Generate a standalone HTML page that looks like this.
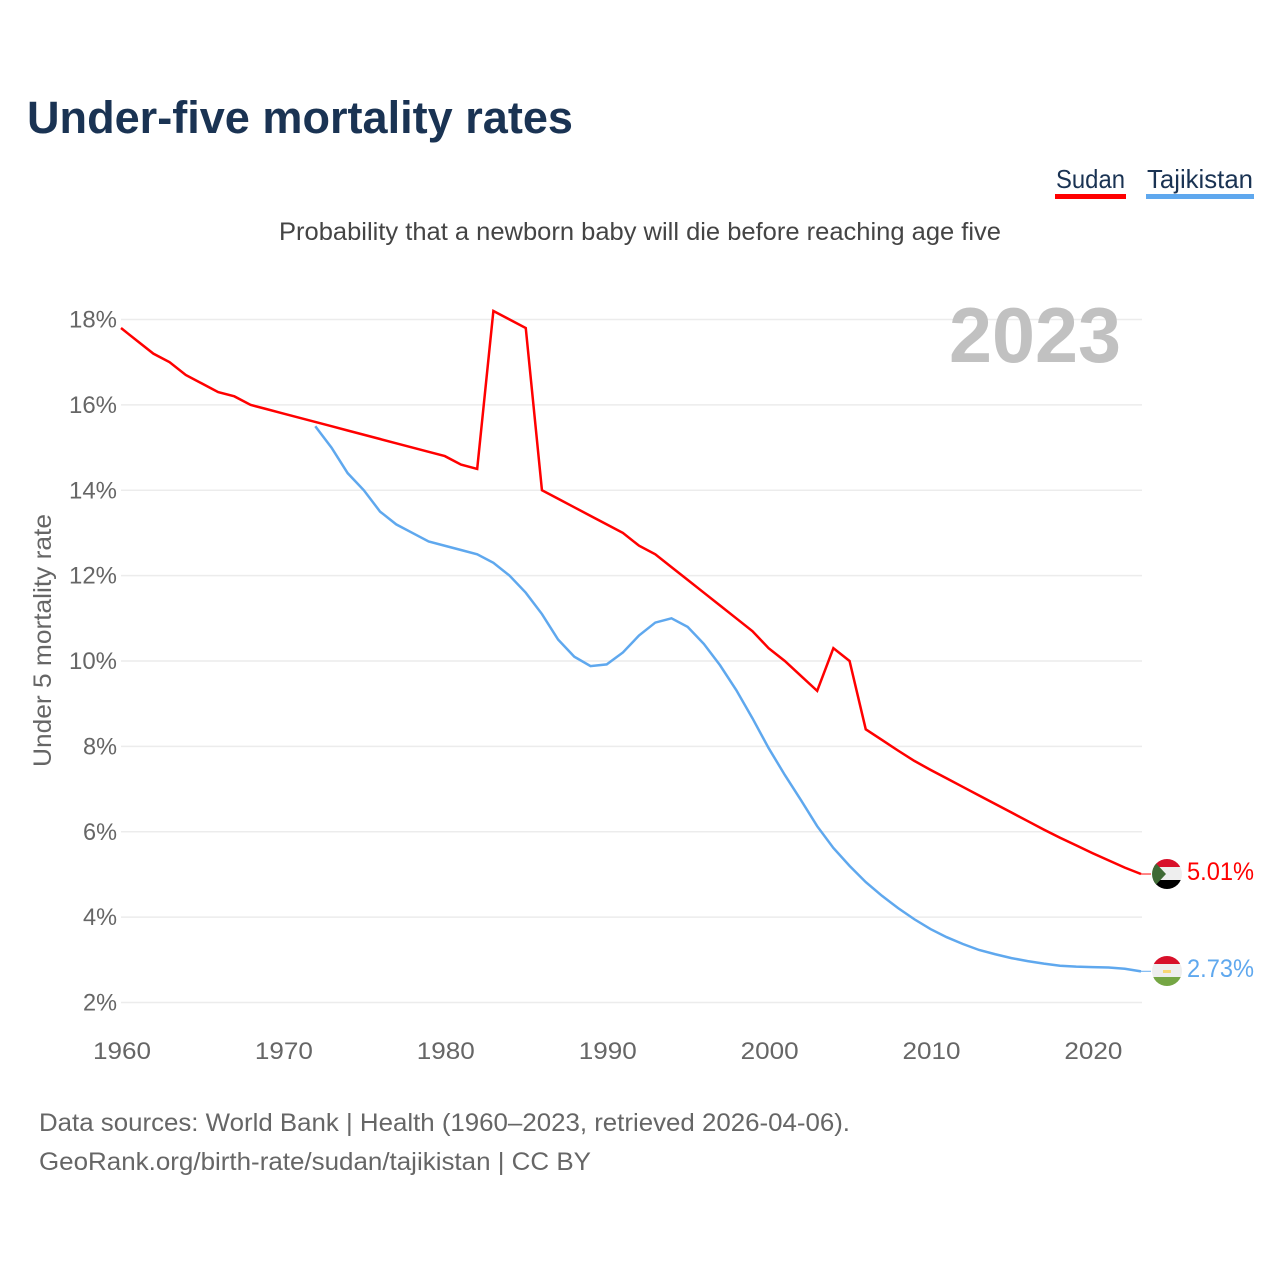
<!DOCTYPE html>
<html lang="en">
<head>
<meta charset="utf-8">
<title>Under-five mortality rates</title>
<style>
html,body{margin:0;padding:0;background:#fff;width:1280px;height:1280px;overflow:hidden}
svg{display:block}
text{font-family:"Liberation Sans",sans-serif}
</style>
</head>
<body>
<svg id="chart" xmlns="http://www.w3.org/2000/svg" width="1280" height="1280" viewBox="0 0 1280 1280">
  <defs>
    <clipPath id="flag-clip-sudan"><circle cx="1167" cy="874" r="15"/></clipPath>
    <clipPath id="flag-clip-tajik"><circle cx="1167" cy="971" r="15"/></clipPath>
  </defs>
  <rect width="1280" height="1280" fill="#fff"/>
  <text x="27" y="133" font-size="45" font-weight="700" fill="#1a3353" textLength="546" lengthAdjust="spacingAndGlyphs">Under-five mortality rates</text>

  <g>
    <text x="1056" y="188" font-size="26" fill="#1a3353" textLength="69" lengthAdjust="spacingAndGlyphs">Sudan</text>
    <rect x="1055" y="194" width="71" height="5" fill="#ff0000"/>
  </g>
  <g>
    <text x="1147" y="188" font-size="26" fill="#1a3353" textLength="106" lengthAdjust="spacingAndGlyphs">Tajikistan</text>
    <rect x="1146" y="194" width="108" height="5" fill="#5fa8ee"/>
  </g>

  <text x="279" y="240" font-size="25" fill="#444" textLength="722" lengthAdjust="spacingAndGlyphs">Probability that a newborn baby will die before reaching age five</text>

  <g id="grid"></g>
  <g id="y-ticks"></g>
  <g id="x-ticks"></g>

  <text x="949" y="362" font-size="78" font-weight="700" fill="#c1c1c1" textLength="172" lengthAdjust="spacingAndGlyphs">2023</text>
  <text transform="translate(51,767) rotate(-90)" x="0" y="0" font-size="25" fill="#666" textLength="253" lengthAdjust="spacingAndGlyphs">Under 5 mortality rate</text>

  <g id="series"></g>

  <g clip-path="url(#flag-clip-sudan)">
    <rect x="1152" y="859" width="30" height="8" fill="#d8102a"/>
    <rect x="1152" y="867" width="30" height="13" fill="#eeeeee"/>
    <rect x="1152" y="880" width="30" height="9" fill="#000"/>
    <polygon points="1152,859 1166,874 1152,889" fill="#3f6a35"/>
  </g>
  <g clip-path="url(#flag-clip-tajik)">
    <rect x="1152" y="956" width="30" height="8" fill="#d8102a"/>
    <rect x="1152" y="964" width="30" height="13" fill="#eeeeee"/>
    <rect x="1152" y="977" width="30" height="10" fill="#75a644"/>
    <rect x="1163" y="970" width="8" height="3" fill="#f7d774"/>
  </g>

  <text id="label-sudan" x="1187" y="880" font-size="25" fill="#ff0000" textLength="67" lengthAdjust="spacingAndGlyphs">5.01%</text>
  <text id="label-tajik" x="1187" y="977" font-size="25" fill="#5fa8ee" textLength="67" lengthAdjust="spacingAndGlyphs">2.73%</text>

  <text x="39" y="1131" font-size="25" fill="#666" textLength="811" lengthAdjust="spacingAndGlyphs">Data sources: World Bank | Health (1960–2023, retrieved 2026-04-06).</text>
  <text x="39" y="1170" font-size="25" fill="#666" textLength="552" lengthAdjust="spacingAndGlyphs">GeoRank.org/birth-rate/sudan/tajikistan | CC BY</text>
</svg>
<script>
const sudanStartYear = 1960;
const sudanValues = [17.8,17.5,17.2,17.0,16.7,16.5,16.3,16.2,16.0,15.9,15.8,15.7,15.6,15.5,15.4,15.3,15.2,15.1,15.0,14.9,14.8,14.6,14.5,18.2,18.0,17.8,14.0,13.8,13.6,13.4,13.2,13.0,12.7,12.5,12.2,11.9,11.6,11.3,11.0,10.7,10.3,10.0,9.65,9.3,10.3,10.0,8.4,8.15,7.9,7.66,7.45,7.25,7.05,6.85,6.65,6.45,6.25,6.05,5.86,5.68,5.5,5.33,5.16,5.01];
const tajikStartYear = 1972;
const tajikValues = [15.5,15.0,14.4,14.0,13.5,13.2,13.0,12.8,12.7,12.6,12.5,12.3,12.0,11.6,11.1,10.5,10.1,9.88,9.92,10.2,10.6,10.9,11.0,10.8,10.4,9.9,9.32,8.66,7.96,7.33,6.74,6.13,5.62,5.2,4.82,4.5,4.21,3.95,3.72,3.53,3.37,3.23,3.13,3.04,2.97,2.91,2.86,2.84,2.83,2.82,2.79,2.73];
const yTickValues = [2,4,6,8,10,12,14,16,18];
const xTickYears = [1960,1970,1980,1990,2000,2010,2020];

const NS = 'http://www.w3.org/2000/svg';
function xScale(year){ return 121 + (year - 1960) * (1141 - 121) / 63; }
function yScale(v){ return 1002.5 - (v - 2) * (1002.5 - 319.5) / 16; }
function linePath(startYear, values){
  return values.map(function(v,i){
    return (i ? 'L' : 'M') + xScale(startYear + i).toFixed(2) + ' ' + yScale(v).toFixed(2);
  }).join(' ');
}

const grid = document.getElementById('grid');
const yTicks = document.getElementById('y-ticks');
yTickValues.forEach(function(v){
  const l = document.createElementNS(NS,'line');
  
  
  l.setAttribute('x1', 121);
  l.setAttribute('x2', 1142);
  l.setAttribute('y1', yScale(v));
  l.setAttribute('y2', yScale(v));
  l.setAttribute('stroke', '#ececec');
  l.setAttribute('stroke-width', '1.5');
  grid.appendChild(l);

  const t = document.createElementNS(NS,'text');
  const s = v + '%';
  
  
  t.setAttribute('x', 117);
  t.setAttribute('y', yScale(v) + 8);
  t.setAttribute('text-anchor', 'end');
  t.setAttribute('font-size', '24');
  t.setAttribute('fill', '#666');
  t.setAttribute('textLength', (s.length - 1) * 14 + 20);
  t.setAttribute('lengthAdjust', 'spacingAndGlyphs');
  t.textContent = s;
  yTicks.appendChild(t);
});

const xTicks = document.getElementById('x-ticks');
xTickYears.forEach(function(y){
  const t = document.createElementNS(NS,'text');
  
  
  t.setAttribute('x', xScale(y) + 1);
  t.setAttribute('y', 1059);
  t.setAttribute('text-anchor', 'middle');
  t.setAttribute('font-size', '24');
  t.setAttribute('fill', '#666');
  t.setAttribute('textLength', 58);
  t.setAttribute('lengthAdjust', 'spacingAndGlyphs');
  t.textContent = String(y);
  xTicks.appendChild(t);
});

const seriesGroup = document.getElementById('series');
function addSeries(name, color, startYear, values){
  const last = values[values.length - 1];
  const stub = document.createElementNS(NS,'line');
  
  
  stub.setAttribute('x1', xScale(startYear + values.length - 1));
  stub.setAttribute('x2', 1151);
  stub.setAttribute('y1', yScale(last));
  stub.setAttribute('y2', yScale(last));
  stub.setAttribute('stroke', color);
  stub.setAttribute('stroke-width', '1.2');
  stub.setAttribute('stroke-opacity', '0.8');
  seriesGroup.appendChild(stub);

  const p = document.createElementNS(NS,'path');
  
  
  p.setAttribute('d', linePath(startYear, values));
  p.setAttribute('fill', 'none');
  p.setAttribute('stroke', color);
  p.setAttribute('stroke-width', '2.5');
  p.setAttribute('stroke-linejoin', 'miter');
  seriesGroup.appendChild(p);
}
addSeries('sudan', '#ff0000', sudanStartYear, sudanValues);
addSeries('tajikistan', '#5fa8ee', tajikStartYear, tajikValues);
</script>
</body>
</html>
